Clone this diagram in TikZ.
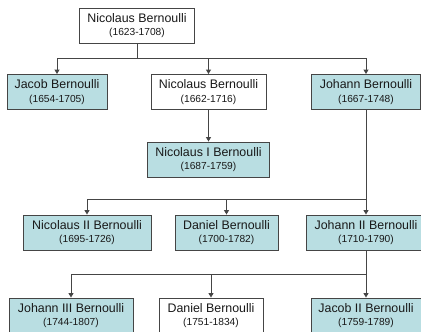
\documentclass[tikz,border=0pt]{standalone}
\usepackage{fontspec}
\setmainfont{Liberation Sans}
\usetikzlibrary{arrows.meta}
\definecolor{boxblue}{HTML}{B9DEE2}
\definecolor{lineg}{HTML}{454545}
\newcommand{\nm}[1]{{\fontsize{12.4}{14}\selectfont #1}}
\newcommand{\dt}[1]{{\fontsize{10.2}{12}\selectfont #1}}
\tikzset{
  pbox/.style={draw=lineg, line width=0.9pt, fill=white, align=center, minimum height=35pt, inner sep=0pt, text=black!90},
  bbox/.style={pbox, fill=boxblue},
  conn/.style={draw=lineg, line width=0.9pt},
  arr/.style={conn, -{Triangle[width=5pt,length=4.5pt]}},
}
\begin{document}
\begin{tikzpicture}[x=1pt,y=-1pt]
\useasboundingbox (0,0) rectangle (421,332);
\node[pbox, minimum width=115pt] (n0) at (137,25.5) {\nm{Nicolaus Bernoulli}\\[1.5pt]\dt{(1623-1708)}};
\node[bbox, minimum width=100pt] (jac) at (57,92) {\nm{Jacob Bernoulli}\\[1.5pt]\dt{(1654-1705)}};
\node[pbox, minimum width=115pt] (nic) at (208.5,92) {\nm{Nicolaus Bernoulli}\\[1.5pt]\dt{(1662-1716)}};
\node[bbox, minimum width=109pt] (joh) at (366,92) {\nm{Johann Bernoulli}\\[1.5pt]\dt{(1667-1748)}};
\node[bbox, minimum width=122pt] (nicI) at (208.5,159.5) {\nm{Nicolaus I Bernoulli}\\[1.5pt]\dt{(1687-1759)}};
\node[bbox, minimum width=128pt] (nicII) at (87,232.5) {\nm{Nicolaus II Bernoulli}\\[1.5pt]\dt{(1695-1726)}};
\node[bbox, minimum width=103pt] (dan) at (226.5,232.5) {\nm{Daniel Bernoulli}\\[1.5pt]\dt{(1700-1782)}};
\node[bbox, minimum width=120pt] (johII) at (366,232.5) {\nm{Johann II Bernoulli}\\[1.5pt]\dt{(1710-1790)}};
\node[bbox, minimum width=124pt] (johIII) at (71,315.5) {\nm{Johann III Bernoulli}\\[1.5pt]\dt{(1744-1807)}};
\node[pbox, minimum width=104pt] (dan2) at (211,315.5) {\nm{Daniel Bernoulli}\\[1.5pt]\dt{(1751-1834)}};
\node[bbox, minimum width=110pt] (jacII) at (366,315.5) {\nm{Jacob II Bernoulli}\\[1.5pt]\dt{(1759-1789)}};
\coordinate (b1) at (0,58);
\coordinate (b2) at (0,199);
\coordinate (b3) at (0,274);
\draw[arr] (n0.south) -- (n0.south |- b1) -| (jac.north);
\draw[arr] (n0.south) -- (n0.south |- b1) -| (nic.north);
\draw[arr] (n0.south) -- (n0.south |- b1) -| (joh.north);
\draw[arr] (nic.south) -- (nicI.north);
\draw[arr] (joh.south) -- (joh.south |- b2) -| (nicII.north);
\draw[arr] (joh.south) -- (joh.south |- b2) -| (dan.north);
\draw[arr] (joh.south) -- (johII.north);
\draw[arr] (johII.south) -- (johII.south |- b3) -| (johIII.north);
\draw[arr] (johII.south) -- (johII.south |- b3) -| (dan2.north);
\draw[arr] (johII.south) -- (jacII.north);
\end{tikzpicture}
\end{document}
